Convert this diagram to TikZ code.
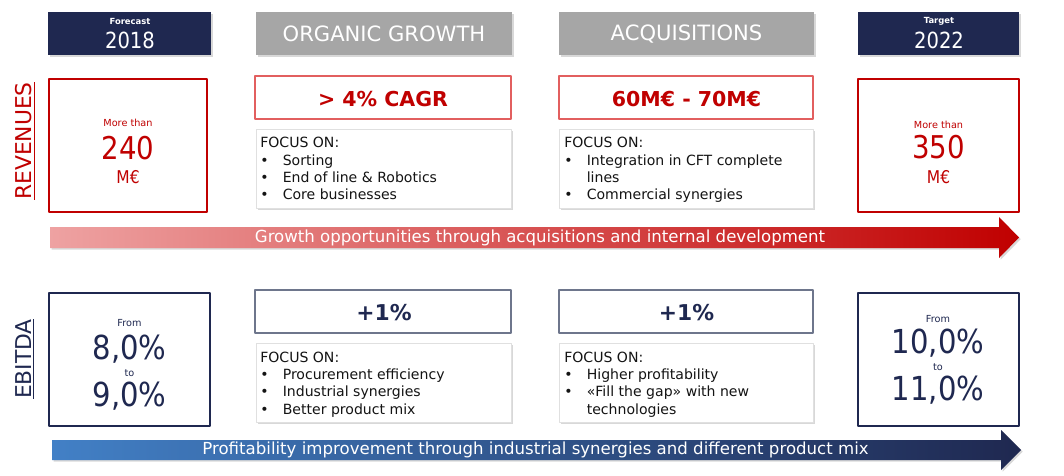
\documentclass[tikz,border=0pt]{standalone}
\usepackage{fontspec}
\setmainfont{DejaVu Sans}
\newfontfamily\narrow[FakeStretch=0.88]{DejaVu Sans}
\usetikzlibrary{shadows}
\definecolor{navy}{RGB}{31,40,80}
\definecolor{hdrgray}{RGB}{166,166,166}
\definecolor{darkred}{RGB}{192,0,0}
\definecolor{softred}{RGB}{226,95,95}
\definecolor{slate}{RGB}{110,118,140}
\definecolor{lightpink}{RGB}{238,162,162}
\definecolor{midblue}{RGB}{66,128,198}
\newcommand{\bul}{\makebox[16pt][l]{\textbullet}}
\newcommand{\ind}{\hspace*{16pt}}
\newcommand{\fsz}[2]{\fontsize{#1}{#2}\selectfont}
\tikzset{
	shd/.style={drop shadow={opacity=0.3,shadow xshift=1.2pt,shadow yshift=-1.2pt}},
	yearbox/.style={fill=navy,shd},
	phasebox/.style={fill=hdrgray,shd},
	revbox/.style={draw=darkred,line width=1.2pt,fill=white},
	ebitbox/.style={draw=navy,line width=1.2pt,fill=white},
	goalred/.style={draw=softred,line width=0.9pt,fill=white},
	goalblue/.style={draw=slate,line width=0.9pt,fill=white},
	focusbox/.style={draw=black!12,line width=0.4pt,fill=white,shd},
	focustxt/.style={anchor=north west,inner sep=0pt,align=left,text=black!92,font=\fsz{10}{12.3}},
	smalltxt/.style={inner sep=0pt,font=\bfseries\fsz{6}{7}},
	tinytxt/.style={inner sep=0pt,font=\fsz{6.9}{7}},
	bignum/.style={inner sep=0pt,font=\narrow\fsz{22.3}{23}},
	pctnum/.style={inner sep=0pt,font=\narrow\fsz{23.5}{24}},
	yeartxt/.style={inner sep=0pt,text=white,font=\narrow\fsz{15.8}{17}},
	phasetxt/.style={inner sep=0pt,text=white,font=\fsz{15}{16}},
	goaltxt/.style={inner sep=0pt,font=\bfseries\fsz{14.6}{15}},
	sidetxt/.style={inner sep=0pt,rotate=90,font=\fsz{15.5}{16}},
	arrowtxt/.style={inner sep=0pt,text=white,font=\fsz{11.8}{12}}
}
\begin{document}
\begin{tikzpicture}[line cap=round,line join=round,x=0.025cm,y=-0.025cm]
	\clip (0,0) rectangle (1064,475);
	\fill [white] (0,0) rectangle (1064,475);
	% header row
	\fill [yearbox] (48,12) rectangle (211,55);
	\fill [phasebox] (256,12) rectangle (512,55);
	\fill [phasebox] (559,12) rectangle (814,55);
	\fill [yearbox] (858,12) rectangle (1019,55);
	\node [smalltxt,text=white] (fclab) at (130,21.7) {Forecast};
	\node [yeartxt] (fcyear) at (130,40) {2018};
	\node [phasetxt] (organic) at (384,34.3) {ORGANIC GROWTH};
	\node [phasetxt] (acq) at (686.5,34.3) {ACQUISITIONS};
	\node [smalltxt,text=white] (tglab) at (939,21.7) {Target};
	\node [yeartxt] (tgyear) at (939,40) {2022};
	% revenues
	\node [sidetxt,text=darkred] (revenues) at (25,141) {\underline{REVENUES}};
	\draw [revbox] (49,79) rectangle (207,212);
	\draw [revbox] (858,79) rectangle (1019,212);
	\node [tinytxt,text=darkred] (revmore) at (128,123) {More than};
	\node [bignum,text=darkred] (revfc) at (128,148) {240};
	\node [inner sep=0pt,text=darkred,font=\narrow\fsz{12.5}{13}] (revfcu) at (128,177) {M€};
	\node [tinytxt,text=darkred] (revmoretg) at (938.5,124.7) {More than};
	\node [bignum,text=darkred] (revtg) at (938.5,147) {350};
	\node [inner sep=0pt,text=darkred,font=\narrow\fsz{12.5}{13}] (revtgu) at (938.5,177) {M€};
	\draw [goalred] (255,76) rectangle (511,119);
	\draw [goalred] (559,76) rectangle (813,119);
	\node [goaltxt,text=darkred] (cagr) at (383,99) {> 4\% CAGR};
	\node [goaltxt,text=darkred] (acqrev) at (686.5,99) {60M€ - 70M€};
	\draw [focusbox] (256,129) rectangle (511,208);
	\draw [focusbox] (559,129) rectangle (813,208);
	\node [focustxt] (focusorg) at (260,137) {FOCUS ON:\\\bul Sorting\\\bul End of line \& Robotics\\\bul Core businesses};
	\node [focustxt] (focusacq) at (564,137) {FOCUS ON:\\\bul Integration in CFT complete\\\ind lines\\\bul Commercial synergies};
	\shade [left color=lightpink,right color=darkred,shd] (50,227) -- (999,227) -- (999,217) -- (1019,237.5) -- (999,258) -- (999,248) -- (50,248) -- cycle;
	\node [arrowtxt] (growth) at (540,238) {Growth opportunities through acquisitions and internal development};
	% ebitda
	\node [sidetxt,text=navy] (ebitda) at (25,359) {\underline{EBITDA}};
	\draw [ebitbox] (49,293) rectangle (210,426);
	\draw [ebitbox] (858,293) rectangle (1019,426);
	\node [tinytxt,text=navy] (ebfrom) at (129.5,322.7) {From};
	\node [pctnum,text=navy] (ebfclo) at (129.5,349.3) {8,0\%};
	\node [tinytxt,text=navy] (ebto) at (129.5,373.3) {to};
	\node [pctnum,text=navy] (ebfchi) at (129.5,395.7) {9,0\%};
	\node [tinytxt,text=navy] (ebfromtg) at (938,318.7) {From};
	\node [pctnum,text=navy] (ebtglo) at (938,343.3) {10,0\%};
	\node [tinytxt,text=navy] (ebtotg) at (938,366.7) {to};
	\node [pctnum,text=navy] (ebtghi) at (938,390) {11,0\%};
	\draw [goalblue] (255,290) rectangle (511,333);
	\draw [goalblue] (559,290) rectangle (813,333);
	\node [goaltxt,text=navy,font=\bfseries\fsz{15.5}{16}] (ebplusorg) at (384,312.3) {+1\%};
	\node [goaltxt,text=navy,font=\bfseries\fsz{15.5}{16}] (ebplusacq) at (686.5,312.3) {+1\%};
	\draw [focusbox] (256,343) rectangle (511,422);
	\draw [focusbox] (559,343) rectangle (813,422);
	\node [focustxt] (focusproc) at (260,351.5) {FOCUS ON:\\\bul Procurement efficiency\\\bul Industrial synergies\\\bul Better product mix};
	\node [focustxt] (focusgap) at (564,351.5) {FOCUS ON:\\\bul Higher profitability\\\bul «Fill the gap» with new\\\ind technologies};
	\shade [left color=midblue,right color=navy,shd] (52,440) -- (1001,440) -- (1001,430) -- (1021,450) -- (1001,470) -- (1001,460) -- (52,460) -- cycle;
	\node [arrowtxt] (profit) at (535.5,450) {Profitability improvement through industrial synergies and different product mix};
\end{tikzpicture}
\end{document}
